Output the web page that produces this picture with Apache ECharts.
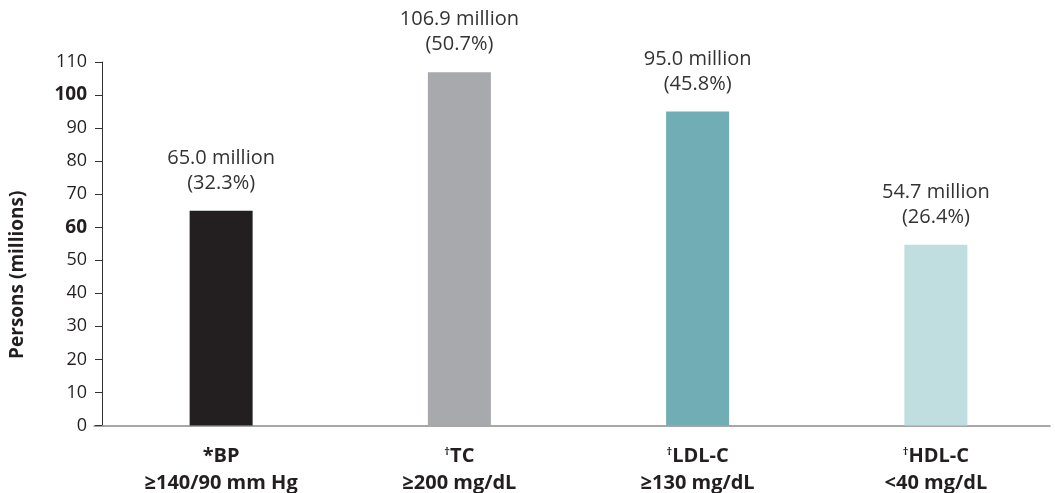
<!DOCTYPE html>
<html>
<head>
<meta charset="utf-8">
<script src="https://cdn.jsdelivr.net/npm/echarts@6/dist/echarts.min.js"></script>
<style>
  html, body { margin: 0; padding: 0; background: #fff; }
  #chart { width: 1055px; height: 493px; }
</style>
</head>
<body>
<div id="chart"></div>
<script>
// Persons with each risk factor (millions) and share of the population
const categories = ['BP', 'TC', 'LDL-C', 'HDL-C'];
const marks = ['*', '†', '†', '†'];
const thresholds = ['≥140/90 mm Hg', '≥200 mg/dL', '≥130 mg/dL', '<40 mg/dL'];
const persons = [65.0, 106.9, 95.0, 54.7];
const percents = [32.3, 50.7, 45.8, 26.4];
const barColors = ['#231f20', '#a7a9ac', '#70adb5', '#c0dde0'];
const yTicks = [0, 10, 20, 30, 40, 50, 60, 70, 80, 90, 100, 110];
const boldTicks = [60, 100];

const FONT = '"Open Sans", Lato, sans-serif';

const chart = echarts.init(document.getElementById('chart'), null, { renderer: 'canvas' });

chart.setOption({
  backgroundColor: '#ffffff',
  animation: false,
  grid: [
    { left: 101, width: 966, top: 62, height: 363.5, containLabel: false },
    { left: 94, width: 956, top: 62, height: 363.5, containLabel: false }
  ],
  xAxis: [
    {
      type: 'category',
      gridIndex: 0,
      data: categories,
      axisLine: { show: false },
      axisTick: { show: false },
      axisLabel: {
        margin: 17,
        interval: 0,
        formatter: function (v, i) {
          const m = marks[i] === '†' ? '{sup|†}' : '{b|' + marks[i] + '}';
          return m + '{b|' + v + '}\n{b|' + thresholds[i] + '}';
        },
        rich: {
          b: { fontFamily: FONT, fontSize: 20, fontWeight: 'bold', color: '#231f20', lineHeight: 27 },
          sup: { fontFamily: FONT, fontSize: 11, fontWeight: 'bold', color: '#231f20', lineHeight: 27, verticalAlign: 'top', padding: [4, 0, 0, 0] }
        }
      }
    },
    {
      type: 'value',
      gridIndex: 1,
      min: 0,
      max: 1,
      axisLine: { show: true, lineStyle: { color: '#8a8a8a', width: 1.5 } },
      axisTick: { show: false },
      axisLabel: { show: false },
      splitLine: { show: false }
    }
  ],
  yAxis: [
    {
      type: 'value',
      gridIndex: 0,
      min: yTicks[0],
      max: yTicks[yTicks.length - 1],
      interval: 10,
      name: 'Persons (millions)',
      nameLocation: 'middle',
      nameGap: 75,
      nameRotate: 90,
      nameTextStyle: {
        fontFamily: FONT, fontSize: 19, fontWeight: 'bold', color: '#231f20',
        padding: [0, 62, 0, 0]
      },
      axisLine: { show: true, lineStyle: { color: '#333333', width: 1 } },
      axisTick: { show: true, length: 7, inside: false, lineStyle: { color: '#333333', width: 1 } },
      splitLine: { show: false },
      axisLabel: {
        margin: 15,
        formatter: function (v) {
          return boldTicks.indexOf(v) >= 0 ? '{b|' + v + '}' : '{n|' + v + '}';
        },
        rich: {
          n: { fontFamily: FONT, fontSize: 18, color: '#231f20' },
          b: { fontFamily: FONT, fontSize: 19, fontWeight: 'bold', color: '#231f20' }
        }
      }
    },
    {
      type: 'value',
      gridIndex: 1,
      show: false
    }
  ],
  series: [
    {
      type: 'bar',
      xAxisIndex: 0,
      yAxisIndex: 0,
      barWidth: 63,
      data: persons.map(function (v, i) {
        return { value: v, itemStyle: { color: barColors[i] } };
      }),
      label: {
        show: true,
        position: 'top',
        distance: 15,
        fontFamily: FONT,
        fontSize: 20,
        color: '#333333',
        lineHeight: 25,
        align: 'center',
        formatter: function (p) {
          return persons[p.dataIndex].toFixed(1) + ' million\n(' + percents[p.dataIndex].toFixed(1) + '%)';
        }
      }
    }
  ]
});
</script>
</body>
</html>
